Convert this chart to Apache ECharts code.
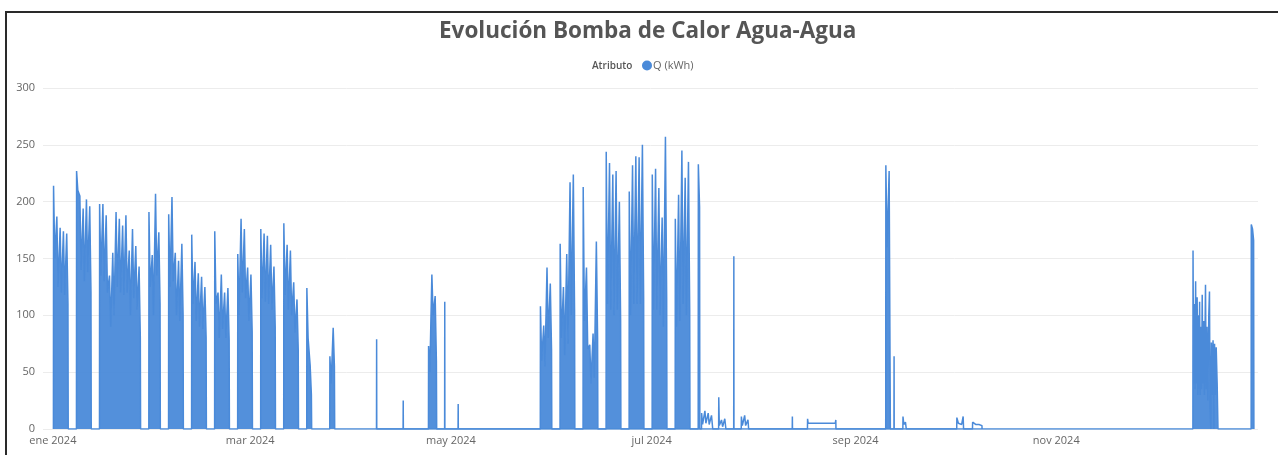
<!DOCTYPE html>
<html><head><meta charset="utf-8">
<script src="https://cdn.jsdelivr.net/npm/echarts@6/dist/echarts.min.js"></script>
<style>html,body{margin:0;padding:0;background:#fff}#c{width:1278px;height:455px}</style>
</head><body><div id="c"></div>
<script>
const titleText = "Evolución Bomba de Calor Agua-Agua";
const legendTitle = "Atributo";
const seriesName = "Q (kWh)";
const tickDates = ["2024-01-01","2024-03-01","2024-05-01","2024-07-01","2024-09-01","2024-11-01"];
const tickLabels = ["ene 2024","mar 2024","may 2024","jul 2024","sep 2024","nov 2024"];

// Dense operating runs: start day, daily peak values, daily lower (afternoon) values
const runStart = ["2024-01-01","2024-01-08","2024-01-15","2024-01-30","2024-02-05","2024-02-12","2024-02-19","2024-02-26",
  "2024-03-04","2024-03-11","2024-03-18","2024-03-25","2024-04-24","2024-05-28","2024-06-03","2024-06-10","2024-06-17",
  "2024-06-24","2024-07-01","2024-07-08","2024-07-15","2024-09-10"];
const runPeaks = [
  [214,187,177,174,172],
  [227,205,194,202,196],
  [198,198,188,135,155,191,185,179,188,157,176,161,143],
  [191,153,207,173],
  [189,204,155,148,163],
  [171,147,137,134,125],
  [174,120,136,120,124],
  [154,185,176,142,136],
  [176,172,170,162,143],
  [181,162,157,129,114],
  [124,56],
  [64,89],
  [73,136,117],
  [108,91,142,128],
  [163,125,154,217,224],
  [213,142,74,84,165],
  [244,234,224,227,200],
  [209,232,240,239,250],
  [224,229,212,186,257],
  [185,206,245,221,235],
  [233],
  [232,227]
];
const runTroughs = [
  [150,125,120,118,110],
  [210,140,130,138,120],
  [135,130,120,90,100,125,120,118,120,100,115,105,80],
  [125,100,135,110],
  [125,130,100,95,100],
  [110,95,90,88,80],
  [110,80,88,80,78],
  [100,120,115,95,85],
  [115,112,110,105,90],
  [118,105,100,85,70],
  [80,30],
  [40,55],
  [50,100,60],
  [60,55,80,70],
  [80,65,75,100,105],
  [95,70,40,45,80],
  [110,105,100,105,95],
  [100,110,110,110,115],
  [105,105,100,90,115],
  [90,95,110,100,105],
  [195],
  [160,0]
];
// December operation (oscillating hourly values)
const decBlock = [
  ["2024-12-12 13:00",0],["2024-12-12 14:00",157],["2024-12-12 18:00",40],["2024-12-13 00:00",110],["2024-12-13 04:00",35],
  ["2024-12-13 09:00",130],["2024-12-13 13:00",40],["2024-12-13 20:00",116],["2024-12-14 01:00",30],["2024-12-14 05:00",100],
  ["2024-12-14 09:00",35],["2024-12-14 14:00",112],["2024-12-14 18:00",30],["2024-12-15 00:00",90],["2024-12-15 04:00",35],
  ["2024-12-15 09:00",118],["2024-12-15 14:00",40],["2024-12-15 20:00",95],["2024-12-16 01:00",30],["2024-12-16 09:00",127],
  ["2024-12-16 14:00",35],["2024-12-16 20:00",90],["2024-12-17 02:00",25],["2024-12-17 09:00",100],["2024-12-17 14:00",121],
  ["2024-12-17 18:00",20],["2024-12-18 00:00",0],["2024-12-18 04:00",76],["2024-12-18 10:00",30],["2024-12-18 16:00",78],
  ["2024-12-18 22:00",0],["2024-12-19 03:00",75],["2024-12-19 09:00",30],["2024-12-19 15:00",72],["2024-12-19 22:00",40],
  ["2024-12-20 04:00",0]
];
const endBlock = [["2024-12-30 06:00",0],["2024-12-30 07:00",180],["2024-12-30 16:00",176],["2024-12-31 00:00",166],["2024-12-31 02:00",0]];
// Isolated short events
const sparse = [
  ["2024-04-08 09:00",0],["2024-04-08 10:00",79],["2024-04-08 11:00",0],
  ["2024-04-16 11:00",0],["2024-04-16 12:00",25],["2024-04-16 13:00",0],
  ["2024-04-29 02:00",0],["2024-04-29 03:00",112],["2024-04-29 04:00",0],
  ["2024-05-03 04:00",0],["2024-05-03 05:00",22],["2024-05-03 06:00",0],
  ["2024-07-16 04:00",0],["2024-07-16 05:00",14],["2024-07-16 12:00",4],["2024-07-17 05:00",16],["2024-07-17 12:00",5],
  ["2024-07-18 05:00",14],["2024-07-18 12:00",4],["2024-07-19 05:00",12],["2024-07-19 14:00",0],
  ["2024-07-21 09:00",0],["2024-07-21 10:00",28],["2024-07-21 14:00",3],["2024-07-22 06:00",8],["2024-07-22 14:00",2],
  ["2024-07-23 06:00",9],["2024-07-23 14:00",0],
  ["2024-07-25 23:00",0],["2024-07-26 00:00",152],["2024-07-26 01:00",0],
  ["2024-07-28 06:00",0],["2024-07-28 07:00",11],["2024-07-28 14:00",3],["2024-07-29 07:00",12],["2024-07-29 14:00",3],
  ["2024-07-30 07:00",8],["2024-07-30 12:00",0],
  ["2024-08-12 18:00",0],["2024-08-12 19:00",11],["2024-08-12 20:00",0],
  ["2024-08-17 09:00",0],["2024-08-17 10:00",9],["2024-08-17 14:00",5],["2024-08-25 20:00",5],["2024-08-26 00:00",8],["2024-08-26 01:00",0],
  ["2024-09-12 16:00",0],["2024-09-12 17:00",64],["2024-09-12 18:00",0],
  ["2024-09-15 09:00",0],["2024-09-15 10:00",11],["2024-09-15 16:00",4],["2024-09-16 04:00",6],["2024-09-16 10:00",0],
  ["2024-10-01 18:00",0],["2024-10-01 19:00",10],["2024-10-02 06:00",5],["2024-10-03 06:00",4],["2024-10-03 17:00",11],["2024-10-03 20:00",0],
  ["2024-10-06 13:00",0],["2024-10-06 14:00",6],["2024-10-07 12:00",4],["2024-10-08 12:00",4],["2024-10-09 10:00",3],["2024-10-09 11:00",0]
];

function ts(s){
  const parts = s.split(' ');
  const [y,m,d] = parts[0].split('-').map(Number);
  const [h,mi] = (parts[1] || '00:00').split(':').map(Number);
  return new Date(y, m-1, d, h, mi).getTime();
}
const dense = [];
runStart.forEach((s,i) => {
  const [y,m,d] = s.split('-').map(Number);
  const pk = runPeaks[i], tr = runTroughs[i];
  dense.push([new Date(y,m-1,d,4).getTime(), 0]);
  pk.forEach((v,j) => {
    dense.push([new Date(y,m-1,d+j,5).getTime(), v]);
    dense.push([new Date(y,m-1,d+j,14).getTime(), tr[j]]);
  });
  dense.push([new Date(y,m-1,d+pk.length-1,16).getTime(), 0]);
});
decBlock.concat(endBlock).forEach(p => dense.push([ts(p[0]), p[1]]));
dense.sort((a,b) => a[0]-b[0]);
const sparseData = sparse.map(p => [ts(p[0]), p[1]]);
const tickTs = tickDates.map(ts);

const FONT = "'Segoe UI','Open Sans',sans-serif";
const BLUE = '#4a8ad9';
const chart = echarts.init(document.getElementById('c'));
chart.setOption({
  animation: false,
  backgroundColor: '#fff',
  title: [
    { text: titleText, left: 434, top: 15, textStyle: { fontFamily: FONT, fontSize: 22.5, fontWeight: 'bold', color: '#555' } },
    { text: legendTitle, left: 587, top: 56, textStyle: { fontFamily: FONT, fontSize: 10, fontWeight: 600, color: '#555' } }
  ],
  legend: {
    data: [seriesName], left: 637, top: 55, icon: 'circle', itemWidth: 10, itemHeight: 10, itemGap: 4,
    textStyle: { fontFamily: FONT, fontSize: 11, color: '#666', padding: [0,0,0,-4] }
  },
  graphic: [{ type: 'rect', shape: { x: 6, y: 12, width: 1320, height: 500 }, style: { fill: 'none', stroke: '#2a2a2a', lineWidth: 2 }, z: 100 }],
  grid: { left: 43, right: 20, top: 88, bottom: 26, containLabel: false },
  xAxis: {
    type: 'value', min: ts('2023-12-29 00:00'), max: ts('2025-01-01 08:00'),
    axisLine: { show: false }, axisTick: { show: false }, splitLine: { show: false },
    axisLabel: {
      customValues: tickTs, color: '#666', fontFamily: FONT, fontSize: 11, margin: 6, hideOverlap: false,
      formatter: (v) => { const i = tickTs.indexOf(v); return i >= 0 ? tickLabels[i] : ''; }
    }
  },
  yAxis: {
    type: 'value', min: 0, max: 300, interval: 50,
    axisLine: { show: false }, axisTick: { show: false },
    splitLine: { lineStyle: { color: '#ececec', width: 1 } },
    axisLabel: { color: '#666', fontFamily: FONT, fontSize: 11, margin: 8 }
  },
  series: [
    { name: seriesName, type: 'line', data: dense, showSymbol: false, sampling: null,
      lineStyle: { color: BLUE, width: 1.5 }, itemStyle: { color: BLUE },
      areaStyle: { color: BLUE, opacity: 0.95 } },
    { name: seriesName, type: 'line', data: sparseData, showSymbol: false,
      lineStyle: { color: BLUE, width: 1.5 }, itemStyle: { color: BLUE } }
  ]
});
</script></body></html>
